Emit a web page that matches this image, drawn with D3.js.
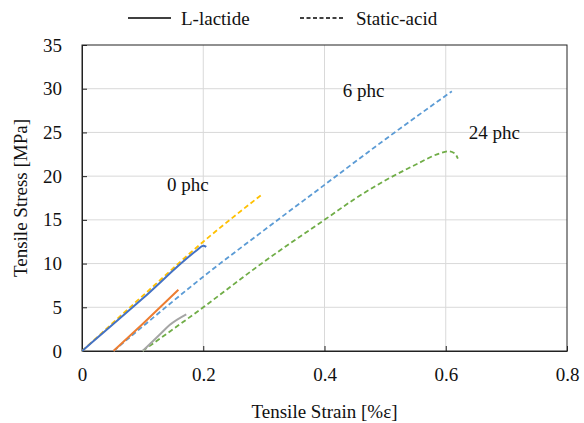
<!DOCTYPE html>
<html>
<head>
<meta charset="utf-8">
<script src="https://cdn.jsdelivr.net/npm/d3@7"></script>
</head>
<body style="margin:0">
<div id="fig"></div>
<script>
// strain [%e] / stress [MPa]
var lactide0  = [[0, 0], [0.1, 6.0], [0.19, 11.55], [0.2, 12.05], [0.205, 11.9]]
var lactide6  = [[0.052, 0], [0.1, 3.1], [0.159, 7.0]]
var lactide24 = [[0.1, 0], [0.13, 2.0], [0.145, 3.0], [0.172, 4.2]]
var static0   = [[0, 0], [0.1, 6.3], [0.2, 12.5], [0.295, 17.8]]
var static6   = [[0.052, 0], [0.1, 2.8], [0.2, 8.5], [0.3, 13.8], [0.4, 19.0], [0.5, 24.2], [0.61, 29.7]]
var static24  = [[0.1, 0], [0.2, 5.0], [0.3, 10.2], [0.4, 15.0], [0.45, 17.4], [0.5, 19.5], [0.55, 21.3],
                 [0.59, 22.6], [0.605, 22.85], [0.615, 22.6], [0.62, 22.0]]

var xTicks = [0, 0.2, 0.4, 0.6, 0.8]
var yTicks = [0, 5, 10, 15, 20, 25, 30, 35]

var series = [
  { data: static0,   color: '#ffc000', dash: true },
  { data: static6,   color: '#5b9bd5', dash: true },
  { data: static24,  color: '#70ad47', dash: true },
  { data: lactide0,  color: '#4472c4', dash: false },
  { data: lactide6,  color: '#ed7d31', dash: false },
  { data: lactide24, color: '#a5a5a5', dash: false }
]

var labels = [
  { text: '0 phc',  x: 0.14,  y: 18.3 },
  { text: '6 phc',  x: 0.43,  y: 29.0 },
  { text: '24 phc', x: 0.638, y: 24.2 }
]

var FONT = 'Liberation Serif'

var W = 584, H = 423
var margin = { top: 45, right: 17, bottom: 72, left: 82 }
var w = W - margin.left - margin.right,
    h = H - margin.top - margin.bottom

var svg = d3.select('#fig').append('svg')
    .attr('width', W)
    .attr('height', H)

var g = svg.append('g')
    .attr('transform', 'translate(' + margin.left + ',' + margin.top + ')')

var x = d3.scaleLinear().domain([0, 0.8]).range([0, w])
var y = d3.scaleLinear().domain([0, 35]).range([h, 0])

// grid
g.append('g').selectAll('line.gx')
  .data(xTicks.slice(1, -1)).enter().append('line')
    .attr('x1', d => x(d)).attr('x2', d => x(d))
    .attr('y1', 0).attr('y2', h)
    .attr('stroke', '#d9d9d9').attr('stroke-width', 1)
g.append('g').selectAll('line.gy')
  .data(yTicks.slice(1, -1)).enter().append('line')
    .attr('x1', 0).attr('x2', w)
    .attr('y1', d => y(d)).attr('y2', d => y(d))
    .attr('stroke', '#d9d9d9').attr('stroke-width', 1)

// frame
g.append('rect')
    .attr('width', w).attr('height', h)
    .attr('fill', 'none').attr('stroke', '#222').attr('stroke-width', 1)

var xAxis = d3.axisBottom(x).tickValues(xTicks).tickSizeInner(-5).tickSizeOuter(0)
    .tickPadding(17).tickFormat(d => d)
var yAxis = d3.axisLeft(y).tickValues(yTicks).tickSizeInner(-5).tickSizeOuter(0)
    .tickPadding(20)

var gx = g.append('g').attr('transform', 'translate(0,' + h + ')').call(xAxis)
var gy = g.append('g').call(yAxis)
;[gx, gy].forEach(a => {
  a.attr('font-family', FONT).attr('font-size', 19)
  a.select('.domain').attr('stroke', '#222')
  a.selectAll('.tick line').attr('stroke', '#222')
  a.selectAll('.tick text').attr('fill', '#111')
    .attr('font-family', FONT).attr('font-size', 19)
})

// curves
var line = d3.line().x(d => x(d[0])).y(d => y(d[1])).curve(d3.curveMonotoneX)
g.append('g').selectAll('path')
  .data(series).enter().append('path')
    .attr('d', d => line(d.data))
    .attr('fill', 'none')
    .attr('stroke', d => d.color)
    .attr('stroke-width', d => d.dash ? 1.8 : 2)
    .attr('stroke-dasharray', d => d.dash ? '5,3' : null)

function txt(sel) {
  return sel.attr('font-family', FONT).attr('font-size', 19).attr('fill', '#111')
}

txt(g.append('g').selectAll('text')
  .data(labels).enter().append('text')
    .attr('x', d => x(d.x)).attr('y', d => y(d.y))
    .text(d => d.text))

// axis titles
txt(svg.append('text'))
    .attr('x', margin.left + w / 2).attr('y', 418)
    .attr('text-anchor', 'middle')
    .text('Tensile Strain [%ε]')
txt(svg.append('text'))
    .attr('transform', 'translate(27,' + (margin.top + h / 2) + ') rotate(-90)')
    .attr('text-anchor', 'middle')
    .text('Tensile Stress [MPa]')

// legend
var leg = svg.append('g')
leg.append('line').attr('x1', 128).attr('x2', 171).attr('y1', 18).attr('y2', 18)
    .attr('stroke', '#404040').attr('stroke-width', 2)
txt(leg.append('text')).attr('x', 181).attr('y', 25).text('L-lactide')
leg.append('line').attr('x1', 300).attr('x2', 345).attr('y1', 18).attr('y2', 18)
    .attr('stroke', '#404040').attr('stroke-width', 2).attr('stroke-dasharray', '4,2.5')
txt(leg.append('text')).attr('x', 356).attr('y', 25).text('Static-acid')
</script>
</body>
</html>
